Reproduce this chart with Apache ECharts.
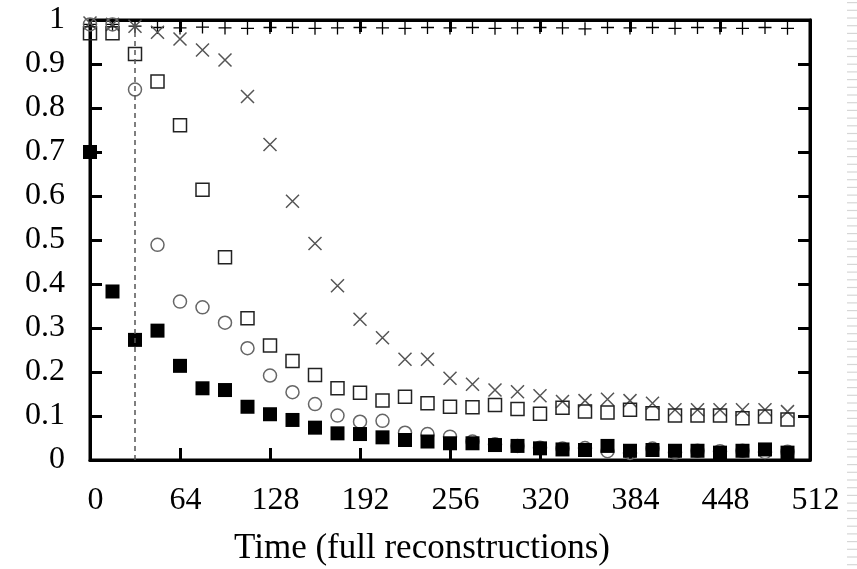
<!DOCTYPE html>
<html>
<head>
<meta charset="utf-8">
<script src="https://cdn.jsdelivr.net/npm/echarts@6/dist/echarts.min.js"></script>
<style>
html,body{margin:0;padding:0;background:#fff;}
#chart{width:857px;height:569px;}
</style>
</head>
<body>
<div id="chart"></div>
<script>
// ---- data ----
const times = [0,16,32,48,64,80,96,112,128,144,160,176,192,208,224,240,256,272,288,304,320,336,352,368,384,400,416,432,448,464,480,496];
const plusSeries = [0.99,0.99,0.986,0.983,0.982,0.984,0.982,0.981,0.983,0.983,0.981,0.982,0.983,0.982,0.981,0.983,0.982,0.983,0.981,0.982,0.983,0.982,0.980,0.983,0.982,0.983,0.981,0.983,0.982,0.981,0.983,0.981];
const crossSeries = [0.993,0.99,0.986,0.972,0.957,0.932,0.909,0.826,0.717,0.588,0.492,0.396,0.32,0.278,0.229,0.229,0.186,0.172,0.159,0.155,0.146,0.133,0.135,0.138,0.135,0.129,0.114,0.114,0.114,0.114,0.114,0.11];
const squareSeries = [0.97,0.97,0.923,0.86,0.761,0.614,0.461,0.322,0.26,0.225,0.193,0.163,0.153,0.135,0.144,0.129,0.121,0.12,0.125,0.116,0.105,0.119,0.11,0.108,0.114,0.106,0.101,0.101,0.101,0.095,0.099,0.092];
const circleSeries = [0.99,0.99,0.842,0.489,0.36,0.347,0.312,0.254,0.192,0.154,0.127,0.101,0.087,0.089,0.062,0.059,0.053,0.042,0.036,0.032,0.028,0.026,0.027,0.02,0.016,0.026,0.017,0.021,0.02,0.021,0.018,0.019];
const filledSeries = [0.70,0.383,0.273,0.294,0.214,0.163,0.159,0.121,0.104,0.091,0.0735,0.0606,0.059,0.0515,0.0455,0.042,0.038,0.038,0.034,0.032,0.0265,0.024,0.0227,0.032,0.021,0.0227,0.021,0.021,0.0167,0.021,0.024,0.0167];
const xTicks = [0,64,128,192,256,320,384,448,512];
const yTicks = ['0','0.1','0.2','0.3','0.4','0.5','0.6','0.7','0.8','0.9','1'];
const markerTime = 32;
const xTitle = 'Time (full reconstructions)';

function pairs(vals){ return times.map((t,i)=>[t, vals[i]]); }

const FONT = '"Liberation Serif","DejaVu Serif",serif';
const chart = echarts.init(document.getElementById('chart'), null, {renderer:'canvas'});

function makeX(pos, showLabel){
  return {
    type:'value', min:0, max:512, interval:64, position:pos, gridIndex:0,
    axisLine:{show:true, onZero:false, lineStyle:{color:'#000', width:3}},
    axisTick:{show:true, inside:true, length:12, lineStyle:{color:'#000', width:3}},
    splitLine:{show:false},
    axisLabel: showLabel ? {show:true, inside:false, margin:25, color:'#000', fontFamily:FONT, fontSize:32, padding:[0,0,0,11],
        formatter:(v)=> xTicks.includes(v) ? String(v) : ''} : {show:false}
  };
}
function makeY(pos, showLabel){
  return {
    type:'value', min:0, max:1, interval:0.1, position:pos, gridIndex:0,
    axisLine:{show:true, onZero:false, lineStyle:{color:'#000', width:3}},
    axisTick:{show:true, inside:true, length:12, lineStyle:{color:'#000', width:3}},
    splitLine:{show:false},
    axisLabel: showLabel ? {show:true, inside:false, margin:25, color:'#000', fontFamily:FONT, fontSize:32,
        formatter:(v)=> yTicks[Math.round(v*10)]} : {show:false}
  };
}

const stripes = [];
for (let y = 2; y < 569; y += 7.7) {
  stripes.push({type:'rect', silent:true, shape:{x:847, y:y, width:10, height:1.2}, style:{fill:'#d6d6d6'}});
}

const option = {
  animation:false,
  backgroundColor:'#fff',
  grid:{left:90, right:47, top:20, bottom:109, show:true, borderColor:'#000', borderWidth:3, backgroundColor:'rgba(0,0,0,0)'},
  xAxis:[ makeX('bottom', true), makeX('top', false) ],
  yAxis:[ makeY('left', true), makeY('right', false) ],
  graphic:[
    {type:'text', x:422, y:549, silent:true,
      style:{text:xTitle, font:'35px "Liberation Serif","DejaVu Serif",serif', fill:'#000', textAlign:'center', textVerticalAlign:'middle'}},
    {type:'group', silent:true, children:stripes}
  ],
  series:[
    {type:'scatter', name:'plus', xAxisIndex:0, yAxisIndex:0, data:pairs(plusSeries), symbol:'path://M0,5L10,5M5,0L5,10', symbolSize:13,
      itemStyle:{color:'rgba(0,0,0,0)', borderColor:'#000', borderWidth:1.3, opacity:1}, silent:true,
      markLine:{silent:true, symbol:'none', label:{show:false},
        lineStyle:{type:[5,4], color:'#555', width:1.5, opacity:1},
        data:[{xAxis:markerTime}]}},
    {type:'scatter', name:'cross', xAxisIndex:0, yAxisIndex:0, data:pairs(crossSeries), symbol:'path://M0,0L10,10M10,0L0,10', symbolSize:13,
      itemStyle:{color:'rgba(0,0,0,0)', borderColor:'#555', borderWidth:1.5, opacity:1}, silent:true},
    {type:'scatter', name:'square', xAxisIndex:0, yAxisIndex:0, data:pairs(squareSeries), symbol:'rect', symbolSize:13,
      itemStyle:{color:'rgba(0,0,0,0)', borderColor:'#222', borderWidth:1.5, opacity:1}, silent:true},
    {type:'scatter', name:'circle', xAxisIndex:0, yAxisIndex:0, data:pairs(circleSeries), symbol:'circle', symbolSize:13,
      itemStyle:{color:'rgba(0,0,0,0)', borderColor:'#666', borderWidth:1.5, opacity:1}, silent:true},
    {type:'scatter', name:'filled', xAxisIndex:0, yAxisIndex:0, data:pairs(filledSeries), symbol:'rect', symbolSize:14,
      itemStyle:{color:'#000', borderWidth:0, opacity:1}, silent:true}
  ]
};
chart.setOption(option);
</script>
</body>
</html>
